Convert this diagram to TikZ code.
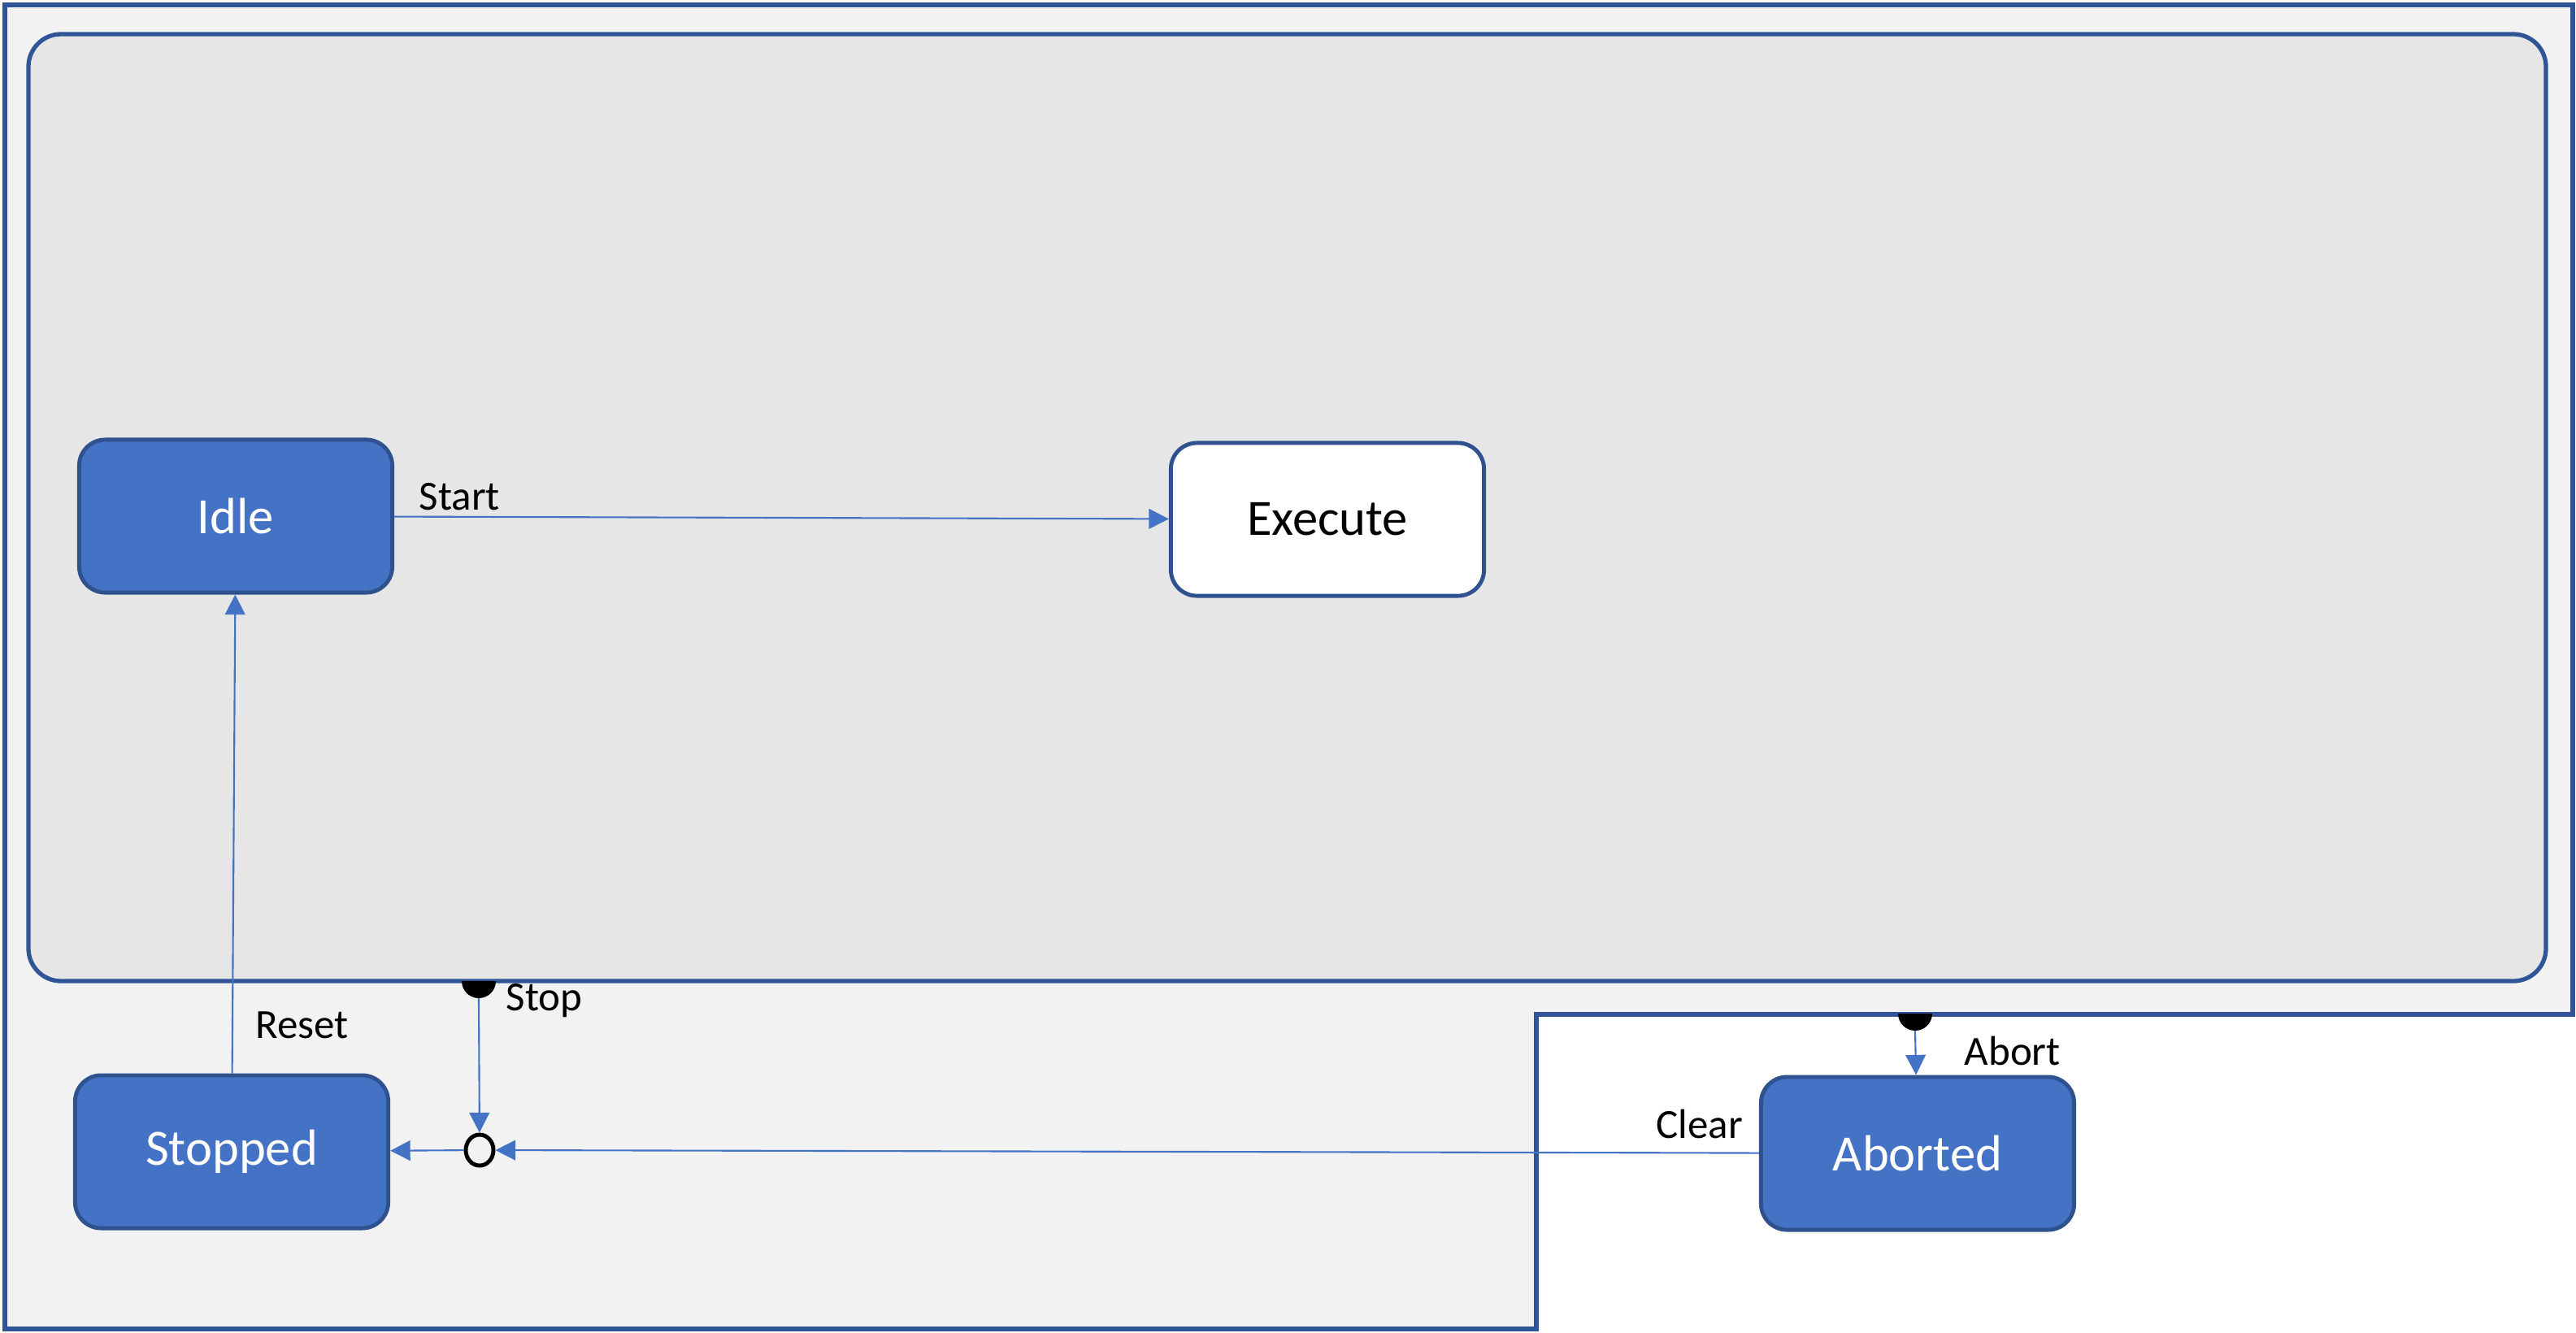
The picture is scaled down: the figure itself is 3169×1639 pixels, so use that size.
\documentclass[tikz,border=0pt]{standalone}
\usepackage{fontspec}
\setmainfont{Carlito}
\usepackage{tikz}
\usetikzlibrary{shapes,arrows.meta}
\definecolor{frameblue}{HTML}{2F5597}
\definecolor{stateblue}{HTML}{4472C4}
\definecolor{stateedge}{HTML}{2F528F}
\tikzstyle{state} = [draw=stateedge, line width=1.4pt, rounded corners=0.32cm, minimum width=3.85cm, minimum height=1.88cm, fill=stateblue, text=white, font=\fontsize{17.8}{20}\selectfont]
\tikzstyle{arrow} = [draw=stateblue, line width=0.6pt, -{Triangle[length=7pt,width=7pt]}]
\tikzstyle{trigger} = [inner sep=0pt, anchor=base west, font=\fontsize{14.5}{17}\selectfont]

\begin{document}
\begin{tikzpicture}[x=0.01cm, y=-0.01cm]
    \useasboundingbox (0,0) rectangle (3169,1639);
    % outer region and inner composite state
    \draw[frameblue, line width=1.5pt, fill={rgb,255:red,242;green,242;blue,242}]
        (6,6) -- (3165,6) -- (3165,1248) -- (1890,1248) -- (1890,1635) -- (6,1635) -- cycle;
    \draw[frameblue, line width=1.5pt, fill={rgb,255:red,230;green,230;blue,230}, rounded corners=0.4cm]
        (35,42) rectangle (3132,1207);

    % states
    \node[state] (idle) at (290,635) {Idle};
    \node[state, fill=white, text=black] (execute) at (1633,639) {Execute};
    \node[state] (stopped) at (285,1417) {Stopped};
    \node[state] (aborted) at (2359,1419) {Aborted};
    \node[draw=black, ellipse, line width=1.4pt, minimum width=0.34cm, minimum height=0.38cm, inner sep=0pt] (junction) at (590,1415) {};

    % exit points
    \fill[black] (568,1207) arc[start angle=180, end angle=0, radius=21] -- cycle;
    \coordinate (stopdot) at (589,1228);
    \fill[black] (2335,1247) arc[start angle=180, end angle=0, radius=21] -- cycle;
    \coordinate (abortdot) at (2356,1268);

    % transitions
    \draw[arrow] (idle) -- (execute);
    \draw[arrow] (stopped) -- (idle);
    \draw[arrow] (stopdot) -- (junction);
    \draw[arrow] (junction) -- (stopped);
    \draw[arrow] (aborted) -- (junction);
    \draw[arrow] (abortdot) -- (aborted);

    % labels
    \node[trigger] (startlbl) at (515,627) {Start};
    \node[trigger] (resetlbl) at (314,1277) {Reset};
    \node[trigger] (stoplbl) at (622,1243) {Stop};
    \node[trigger] (abortlbl) at (2416,1310) {Abort};
    \node[trigger] (clearlbl) at (2037,1400) {Clear};
\end{tikzpicture}
\end{document}
